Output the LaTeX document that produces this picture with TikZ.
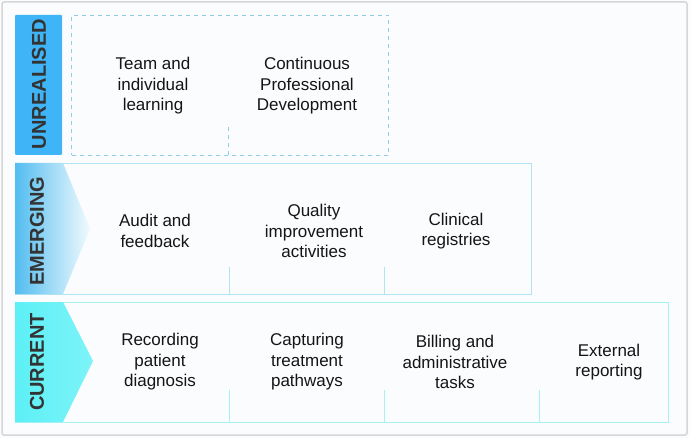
\documentclass[tikz,border=0pt]{standalone}
\usepackage{fontspec}
\setmainfont{Liberation Sans}
\usetikzlibrary{positioning}
\definecolor{unreal}{HTML}{3FB5F8}
\definecolor{emerg}{HTML}{52BDF0}
\definecolor{curr}{HTML}{5CF0F6}
\definecolor{emergline}{HTML}{B2E3F3}
\definecolor{currline}{HTML}{A6F1F6}
\definecolor{dashline}{HTML}{8FCBEA}
\definecolor{labeltext}{HTML}{333333}
\definecolor{itemtext}{HTML}{151515}
\definecolor{framegray}{HTML}{D6D6D6}
\definecolor{paper}{HTML}{FBFCFE}

\begin{document}
\begin{tikzpicture}[x=1pt, y=-1pt,
    item/.style={align=center, font=\fontsize{17}{20.4}\selectfont, text=itemtext},
    level/.style={rotate=90, font=\fontsize{20}{20}\selectfont\bfseries, text=labeltext},
    rowbox/.style={draw, line width=1.2pt, inner sep=0pt, anchor=north west},
    divider/.style={line width=0.8pt}]
    \useasboundingbox (0,0) rectangle (690,438);
    \fill[paper] (0,0) rectangle (690,438);
    \draw[framegray, line width=1.5pt, rounded corners=2pt] (2,2) rectangle (687,435);

    % unrealised
    \node[rowbox, draw=dashline, line width=1pt, dash pattern=on 4pt off 4pt, minimum width=317, minimum height=140] (unrealbox) at (71,15) {};
    \draw[dashline, line width=1pt, dash pattern=on 4pt off 4pt] (228,155) -- (228,125);
    \fill[unreal, rounded corners=1pt] (15,15) rectangle (62,155);
    \node[level] (unreallbl) at (39,84) {UNREALISED};

    % emerging
    \node[rowbox, draw=emergline, minimum width=516, minimum height=131] (emergbox) at (15,163) {};
    \foreach \x in {229,384}
        \draw[divider, emergline] (\x,294) -- (\x,267);
    \shade[left color=emerg, right color=emerg!8] (15,163) -- (63,163) -- (90,229) -- (63,294) -- (15,294) -- cycle;
    \node[level] (emerglbl) at (37,231) {EMERGING};

    % current
    \node[rowbox, draw=currline, minimum width=653, minimum height=120] (currbox) at (15,302) {};
    \foreach \x in {229,384,539}
        \draw[divider, currline] (\x,422) -- (\x,390);
    \shade[left color=curr, right color=curr!80!white] (15,302) -- (63,302) -- (93,361) -- (63,422) -- (15,422) -- cycle;
    \node[level] (currlbl) at (37,362) {CURRENT};

    \node[item] (learning) at (153,86) {Team and\\individual\\learning};
    \node[item] (cpd) at (307,86) {Continuous\\Professional\\Development};

    \node[item] (audit) at (155,231) {Audit and\\feedback};
    \node[item] (quality) at (314,231) {Quality\\improvement\\activities};
    \node[item] (registry) at (456,231) {Clinical\\registries};

    \node[item] (diagnosis) at (160,362) {Recording\\patient\\diagnosis};
    \node[item] (pathway) at (307,362) {Capturing\\treatment\\pathways};
    \node[item] (billing) at (455,362) {Billing and\\administrative\\tasks};
    \node[item] (reporting) at (609,362) {External\\reporting};
\end{tikzpicture}
\end{document}
